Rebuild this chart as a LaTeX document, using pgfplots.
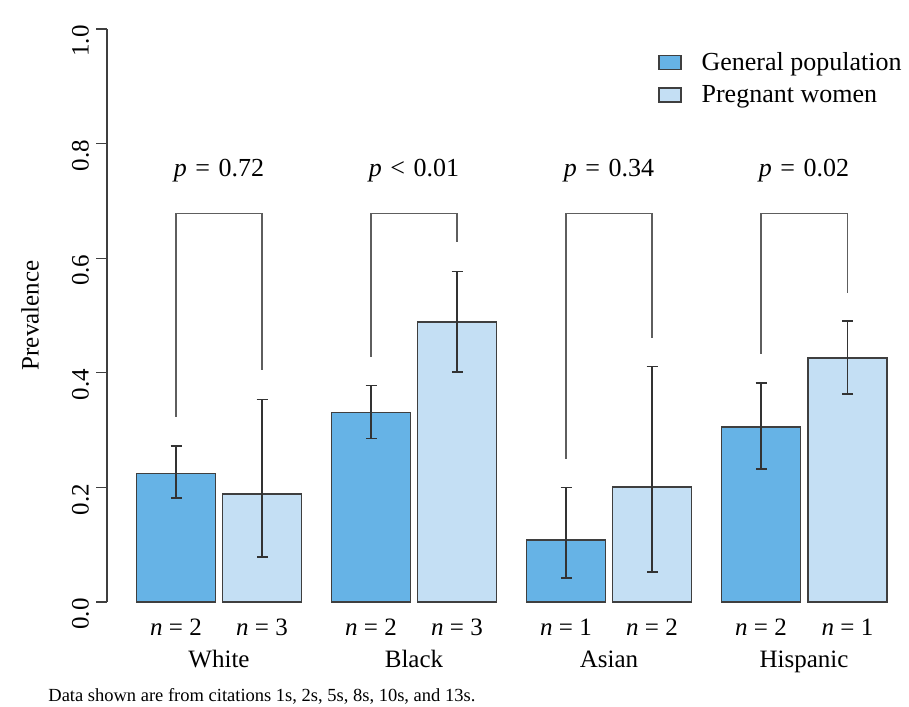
\documentclass[border=0pt]{standalone}
\usepackage{fontspec}
\setmainfont{Liberation Serif}
\usepackage{pgfplots}
\pgfplotsset{compat=1.18}
\definecolor{genc}{HTML}{66B3E6}
\definecolor{pregc}{HTML}{C4DFF4}
\definecolor{edgec}{HTML}{3F3F3F}
\definecolor{brc}{HTML}{5E5E5E}
\newcommand{\fs}{\fontsize{12.5}{15}\selectfont}
\newcommand{\fl}{\fontsize{13}{15.5}\selectfont}
\newcommand{\pv}[2]{\textit{p}\hspace{0.33em}#1\hspace{0.33em}#2}
\begin{document}
\begin{tikzpicture}[font=\fs]
\begin{axis}[
  x=0.5pt, y=286.5pt,
  xmin=107, xmax=909, ymin=0, ymax=1,
  axis x line=none, axis y line=left,
  axis line style={-, draw=edgec, line width=0.6pt},
  clip=false,
  ytick={0,0.2,0.4,0.6,0.8,1.0},
  yticklabels={0.0,0.2,0.4,0.6,0.8,1.0},
  tick align=outside, major tick length=5.5pt,
  tick style={draw=edgec, line width=0.6pt},
  yticklabel style={rotate=90, anchor=south, font=\fs, xshift=-6pt},
  legend style={draw=none, fill=none, at={(axis cs:658,0.9675)}, anchor=north west,
    font=\fl, row sep=2pt, inner sep=0pt},
  legend cell align=left,
]
\addplot[ybar, bar width=79, bar shift=0pt, fill=genc, draw=edgec, line width=0.6pt,
  legend image code/.code={\draw[fill=genc, draw=edgec, line width=0.6pt] (0pt,-3.5pt) rectangle (11pt,3.5pt); \path (19pt,0pt);},
  error bars/.cd, y dir=both, y explicit,
  error bar style={draw=black!80, line width=0.6pt},
  error mark options={draw=black!80, line width=0.6pt, mark size=2.75pt, rotate=90}]
coordinates {
 (176,0.2246) += (0,0.0477) -= (0,0.0431)
 (371,0.3304) += (0,0.0471) -= (0,0.0454)
 (566,0.1082) += (0,0.0913) -= (0,0.0663)
 (761,0.3054) += (0,0.0768) -= (0,0.0733)
};
\addlegendentry{General population}
\addplot[ybar, bar width=79, bar shift=0pt, fill=pregc, draw=edgec, line width=0.6pt,
  legend image code/.code={\draw[fill=pregc, draw=edgec, line width=0.6pt] (0pt,-3.5pt) rectangle (11pt,3.5pt); \path (19pt,0pt);},
  error bars/.cd, y dir=both, y explicit,
  error bar style={draw=black!80, line width=0.6pt},
  error mark options={draw=black!80, line width=0.6pt, mark size=2.75pt, rotate=90}]
coordinates {
 (262,0.1885) += (0,0.1653) -= (0,0.1100)
 (457,0.4887) += (0,0.0884) -= (0,0.0873)
 (652,0.2007) += (0,0.2099) -= (0,0.1483)
 (847.5,0.4258) += (0,0.0646) -= (0,0.0628)
};
\addlegendentry{Pregnant women}
% significance brackets
\addplot[forget plot, draw=brc, line width=0.9pt] coordinates {(176,0.323) (176,0.678) (262,0.678) (262,0.404)};
\addplot[forget plot, draw=brc, line width=0.9pt] coordinates {(371,0.428) (371,0.678) (457,0.678) (457,0.628)};
\addplot[forget plot, draw=brc, line width=0.9pt] coordinates {(566,0.250) (566,0.678) (652,0.678) (652,0.461)};
\addplot[forget plot, draw=brc, line width=0.9pt] coordinates {(761,0.433) (761,0.678) (847.5,0.678) (847.5,0.540)};
% p values
\node[anchor=base, font=\fl] at (axis cs:219,0.742) {\pv{=}{0.72}};
\node[anchor=base, font=\fl] at (axis cs:414,0.742) {\pv{<}{0.01}};
\node[anchor=base, font=\fl] at (axis cs:609,0.742) {\pv{=}{0.34}};
\node[anchor=base, font=\fl] at (axis cs:804,0.742) {\pv{=}{0.02}};
% n labels
\node[anchor=base] at (axis cs:176,-0.059) {\textit{n} = 2};
\node[anchor=base] at (axis cs:262,-0.059) {\textit{n} = 3};
\node[anchor=base] at (axis cs:371,-0.059) {\textit{n} = 2};
\node[anchor=base] at (axis cs:457,-0.059) {\textit{n} = 3};
\node[anchor=base] at (axis cs:566,-0.059) {\textit{n} = 1};
\node[anchor=base] at (axis cs:652,-0.059) {\textit{n} = 2};
\node[anchor=base] at (axis cs:761,-0.059) {\textit{n} = 2};
\node[anchor=base] at (axis cs:847.5,-0.059) {\textit{n} = 1};
% group labels
\node[anchor=base] at (axis cs:219,-0.115) {White};
\node[anchor=base] at (axis cs:414,-0.115) {Black};
\node[anchor=base] at (axis cs:609,-0.115) {Asian};
\node[anchor=base] at (axis cs:804,-0.115) {Hispanic};
% y label
\node[rotate=90, anchor=center] at (axis cs:30,0.5) {Prevalence};
% footnote
\node[anchor=base west, inner sep=0pt, font=\fontsize{9.25}{11}\selectfont] at (axis cs:48,-0.1730) {Data shown are from citations 1s, 2s, 5s, 8s, 10s, and 13s.};
\coordinate (bl) at (axis cs:0,-0.1832);
\coordinate (tr) at (axis cs:909,1.0506);
\end{axis}
\pgfresetboundingbox
\path[use as bounding box] (bl) rectangle (tr);
\end{tikzpicture}
\end{document}
